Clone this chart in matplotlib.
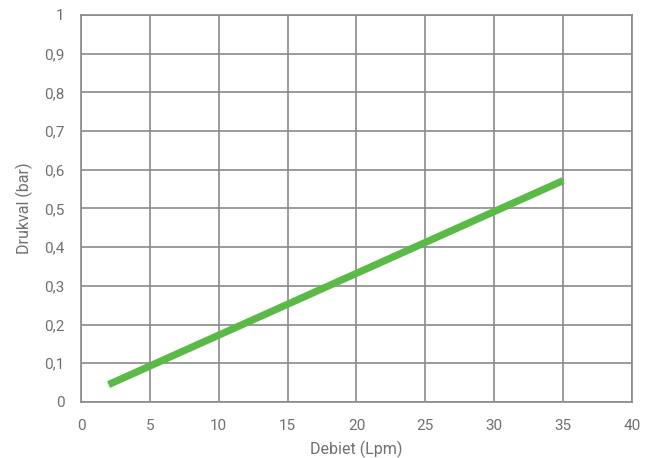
import matplotlib
matplotlib.use("Agg")
import matplotlib.pyplot as plt
from matplotlib.ticker import FuncFormatter

flow = [2, 35]
pressure = [0.045, 0.572]
x_ticks = [0, 5, 10, 15, 20, 25, 30, 35, 40]
y_ticks = [0, 0.1, 0.2, 0.3, 0.4, 0.5, 0.6, 0.7, 0.8, 0.9, 1.0]

plt.rcParams['font.family'] = ['Roboto', 'DejaVu Sans']
fig = plt.figure(figsize=(6.5, 4.58), dpi=100)
ax = fig.add_axes([0.1246, 0.1223, 0.8477, 0.845])
ax.plot(flow, pressure, color='#5bb947', linewidth=5.2, solid_capstyle='butt', zorder=3)
ax.set_xlim(0, 40)
ax.set_ylim(0, 1)
ax.set_xticks(x_ticks)
ax.set_yticks(y_ticks)
ax.yaxis.set_major_formatter(FuncFormatter(lambda v, p: ('%g' % round(v, 1)).replace('.', ',')))
ax.grid(True, color='#8a8a8a', linewidth=1.2)
ax.set_axisbelow(True)
for s in ax.spines.values():
    s.set_color('#8a8a8a')
    s.set_linewidth(1.2)
ax.tick_params(length=0, labelsize=11, colors='#707070', pad=12)
ax.set_xlabel('Debiet (Lpm)', fontsize=11.5, color='#707070', labelpad=6)
ax.set_ylabel('Drukval (bar)', fontsize=11.5, color='#707070', labelpad=8)
fig.savefig('out.png', dpi=100)
